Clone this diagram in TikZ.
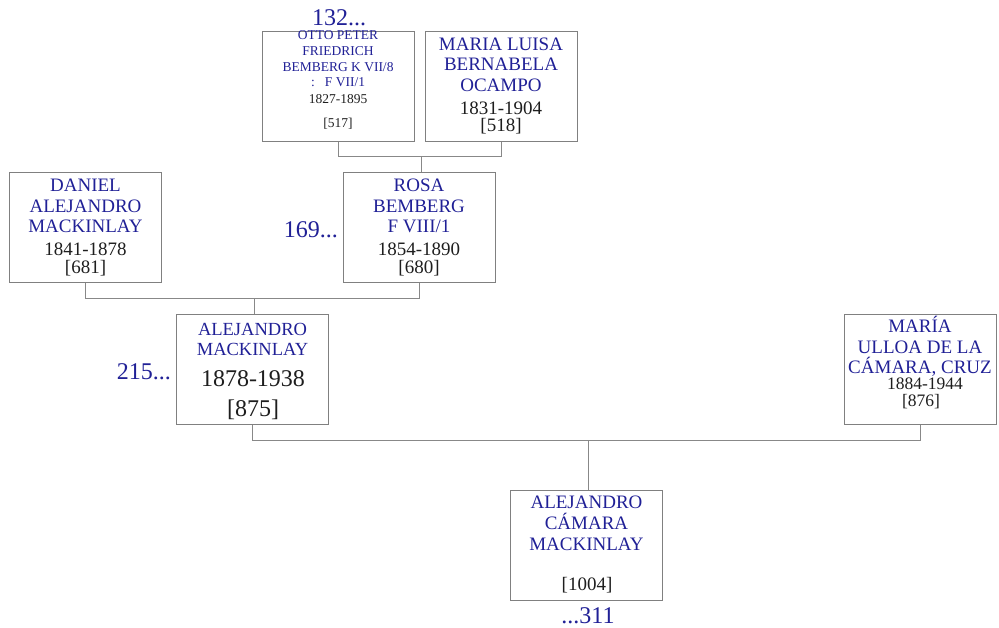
\documentclass[tikz,border=0pt]{standalone}
\usepackage{fontspec}
\setmainfont{Liberation Serif}
\definecolor{nameblue}{RGB}{32,32,150}
\definecolor{linegray}{RGB}{136,136,136}
\definecolor{boxgray}{RGB}{128,128,128}
\definecolor{txt}{RGB}{30,30,30}
\tikzset{
  person/.style={draw=boxgray, line width=1pt, minimum width=152pt, minimum height=110pt, inner sep=0pt},
  nm/.style={anchor=north, align=center, inner sep=0pt, text=nameblue, font=\fontsize{19}{20.5}\selectfont},
  nmsmall/.style={anchor=north, align=center, inner sep=0pt, text=nameblue, font=\fontsize{13.5}{15.7}\selectfont},
  yr/.style={anchor=north, align=center, inner sep=0pt, text=txt, font=\fontsize{19}{17.5}\selectfont},
  yrsmall/.style={anchor=north, align=center, inner sep=0pt, text=txt, font=\fontsize{13.5}{15}\selectfont},
  yrbig/.style={anchor=north, align=center, inner sep=0pt, text=txt, font=\fontsize{24}{30}\selectfont},
  ref/.style={inner sep=0pt, text=nameblue, font=\fontsize{24}{26}\selectfont},
  link/.style={draw=linegray, line width=1pt}
}
\begin{document}
\begin{tikzpicture}[x=1pt,y=-1pt]
\useasboundingbox (0,0) rectangle (999,628);
% boxes
\node[person] (otto) at (338,87) {};
\node[person] (marial) at (501,87) {};
\node[person] (daniel) at (85.5,228) {};
\node[person] (rosa) at (419,228) {};
\node[person] (alej) at (252.5,369.5) {};
\node[person] (ulloa) at (920,369.5) {};
\node[person] (camara) at (586.5,545.5) {};
% texts
\node[nmsmall] (ottoname) at (338,30.5) {OTTO PETER\\FRIEDRICH\\BEMBERG K VII/8\\:\ \ \ F VII/1};
\node[yrsmall] (ottoyr) at (338,94.5) {1827-1895\\[9pt]{[517]}};
\node[nm] (marialname) at (501,37.5) {MARIA LUISA\\BERNABELA\\OCAMPO};
\node[yr] (marialyr) at (501,101.5) {1831-1904\\{[518]}};
\node[nm] (danielname) at (85.5,179) {DANIEL\\ALEJANDRO\\MACKINLAY};
\node[yr] (danielyr) at (85.5,243) {1841-1878\\{[681]}};
\node[nm] (rosaname) at (419,179) {ROSA\\BEMBERG\\F VIII/1};
\node[yr] (rosayr) at (419,243) {1854-1890\\{[680]}};
\node[nm, font=\fontsize{18.5}{20}\selectfont] (alejname) at (252.5,323) {ALEJANDRO\\MACKINLAY};
\node[yrbig] (alejyr) at (253,370) {1878-1938\\{[875]}};
\node[nm] (ulloaname) at (920,316) {MARÍA\\ULLOA DE LA\\CÁMARA, CRUZ};
\node[yr, font=\fontsize{17.5}{17}\selectfont] (ulloayr) at (921,378) {\hspace*{8pt}1884-1944\\{[876]}};
\node[nm, font=\fontsize{19}{21}\selectfont] (camaraname) at (586.5,495.5) {ALEJANDRO\\CÁMARA\\MACKINLAY};
\node[yr] (camarayr) at (587,577) {{[1004]}};
% references
\node[ref, anchor=base] (r132) at (339,26) {132...};
\node[ref, anchor=base east] (r169) at (338,238) {169...};
\node[ref, anchor=base east] (r215) at (171,380) {215...};
\node[ref, anchor=base] (r311) at (588,623) {...311};
% connectors
\coordinate (j1) at (421,157);
\coordinate (j2) at (254,298.5);
\coordinate (j3) at (588,440);
\draw[link] (otto.south) -- (otto.south |- j1) -| (marial.south);
\draw[link] (j1) -- (j1 |- rosa.north);
\draw[link] (daniel.south) -- (daniel.south |- j2) -| (rosa.south);
\draw[link] (j2) -- (j2 |- alej.north);
\draw[link] (alej.south) -- (alej.south |- j3) -| (ulloa.south);
\draw[link] (j3) -- (j3 |- camara.north);
\end{tikzpicture}
\end{document}
